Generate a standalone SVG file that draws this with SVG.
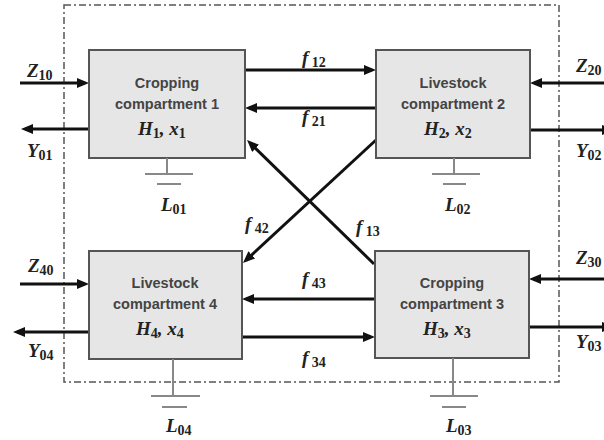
<svg xmlns="http://www.w3.org/2000/svg" width="604" height="440" viewBox="0 0 604 440">
<defs>
<style>
.bx{fill:#e6e6e6;stroke:#555;stroke-width:2}
.t{font-family:"Liberation Sans",Arial,sans-serif;font-weight:bold;font-size:14.5px;fill:#444;text-anchor:middle}
.m{font-family:"Liberation Serif","Times New Roman",serif;font-weight:bold;font-style:italic;font-size:19px;fill:#222}
.s{font-style:normal;font-size:14px}
.a{stroke:#111;stroke-width:3;fill:none;marker-end:url(#ah)}
.g{stroke:#888;stroke-width:2;fill:none}
</style>
<marker id="ah" markerUnits="userSpaceOnUse" markerWidth="13" markerHeight="11" refX="8" refY="5" orient="auto">
<path d="M0,0 L12,5 L0,10 z" fill="#111"/>
</marker>
</defs>
<rect x="64" y="5" width="495" height="377" fill="none" stroke="#555" stroke-width="1.5" stroke-dasharray="7 3 2 3"/>
<g id="connectors">
<line class="a" x1="20" y1="83" x2="85" y2="83"/>
<line class="a" x1="89" y1="129" x2="25" y2="129"/>
<line class="a" x1="245" y1="70" x2="372" y2="70"/>
<line class="a" x1="376" y1="108" x2="249" y2="108"/>
<line class="a" x1="374" y1="264" x2="249.9" y2="142.8"/>
<line class="a" x1="376" y1="140" x2="245.9" y2="260.3"/>
<line class="a" x1="610" y1="83" x2="534" y2="83"/>
<line class="a" x1="530" y1="130" x2="610" y2="130"/>
<line class="a" x1="610" y1="279" x2="533" y2="279"/>
<line class="a" x1="529" y1="327" x2="610" y2="327"/>
<line class="a" x1="20" y1="284" x2="85" y2="284"/>
<line class="a" x1="89" y1="332" x2="17" y2="332"/>
<line class="a" x1="375" y1="299" x2="246" y2="299"/>
<line class="a" x1="242" y1="337" x2="371" y2="337"/>
</g>
<g id="node1">
<rect class="bx" x="89" y="50" width="156" height="108"/>
<text class="t" x="167" y="88">Cropping</text>
<text class="t" x="167" y="109">compartment 1</text>
<text class="m" x="138" y="135">H<tspan class="s" dy="3">1</tspan><tspan dy="-3">, x</tspan><tspan class="s" dy="3">1</tspan></text>
<path class="g" d="M167,158 V174 M145,174 H193 M157,184 H181"/>
</g>
<g id="node2">
<rect class="bx" x="376" y="50" width="154" height="108"/>
<text class="t" x="453" y="88">Livestock</text>
<text class="t" x="453" y="109">compartment 2</text>
<text class="m" x="424" y="135">H<tspan class="s" dy="3">2</tspan><tspan dy="-3">, x</tspan><tspan class="s" dy="3">2</tspan></text>
<path class="g" d="M454,158 V174 M432,174 H480 M443,184 H466"/>
</g>
<g id="node4">
<rect class="bx" x="89" y="251" width="153" height="108"/>
<text class="t" x="165" y="288">Livestock</text>
<text class="t" x="165" y="309">compartment 4</text>
<text class="m" x="136" y="335">H<tspan class="s" dy="3">4</tspan><tspan dy="-3">, x</tspan><tspan class="s" dy="3">4</tspan></text>
<path class="g" d="M173,359 V396 M151,396 H200 M162,407 H187"/>
</g>
<g id="node3">
<rect class="bx" x="375" y="251" width="154" height="107"/>
<text class="t" x="452" y="288">Cropping</text>
<text class="t" x="452" y="309">compartment 3</text>
<text class="m" x="423" y="335">H<tspan class="s" dy="3">3</tspan><tspan dy="-3">, x</tspan><tspan class="s" dy="3">3</tspan></text>
<path class="g" d="M453,358 V396 M430,396 H478 M442,407 H466"/>
</g>
<g id="labels">
<text class="m" x="27" y="77">Z<tspan class="s" dy="3">10</tspan></text>
<text class="m" x="27" y="157">Y<tspan class="s" dy="3">01</tspan></text>
<text class="m" x="161" y="211">L<tspan class="s" dy="3">01</tspan></text>
<text class="m" x="302" y="64">f<tspan class="s" dy="3"> 12</tspan></text>
<text class="m" x="302" y="123">f<tspan class="s" dy="3"> 21</tspan></text>
<text class="m" x="576" y="72">Z<tspan class="s" dy="3">20</tspan></text>
<text class="m" x="576" y="157">Y<tspan class="s" dy="3">02</tspan></text>
<text class="m" x="445" y="211">L<tspan class="s" dy="3">02</tspan></text>
<text class="m" x="245" y="230">f<tspan class="s" dy="3"> 42</tspan></text>
<text class="m" x="356" y="233">f<tspan class="s" dy="3"> 13</tspan></text>
<text class="m" x="302" y="285">f<tspan class="s" dy="3"> 43</tspan></text>
<text class="m" x="302" y="364">f<tspan class="s" dy="3"> 34</tspan></text>
<text class="m" x="28" y="272">Z<tspan class="s" dy="3">40</tspan></text>
<text class="m" x="28" y="357">Y<tspan class="s" dy="3">04</tspan></text>
<text class="m" x="576" y="264">Z<tspan class="s" dy="3">30</tspan></text>
<text class="m" x="576" y="348">Y<tspan class="s" dy="3">03</tspan></text>
<text class="m" x="166" y="432">L<tspan class="s" dy="3">04</tspan></text>
<text class="m" x="446" y="432">L<tspan class="s" dy="3">03</tspan></text>
</g>
</svg>
